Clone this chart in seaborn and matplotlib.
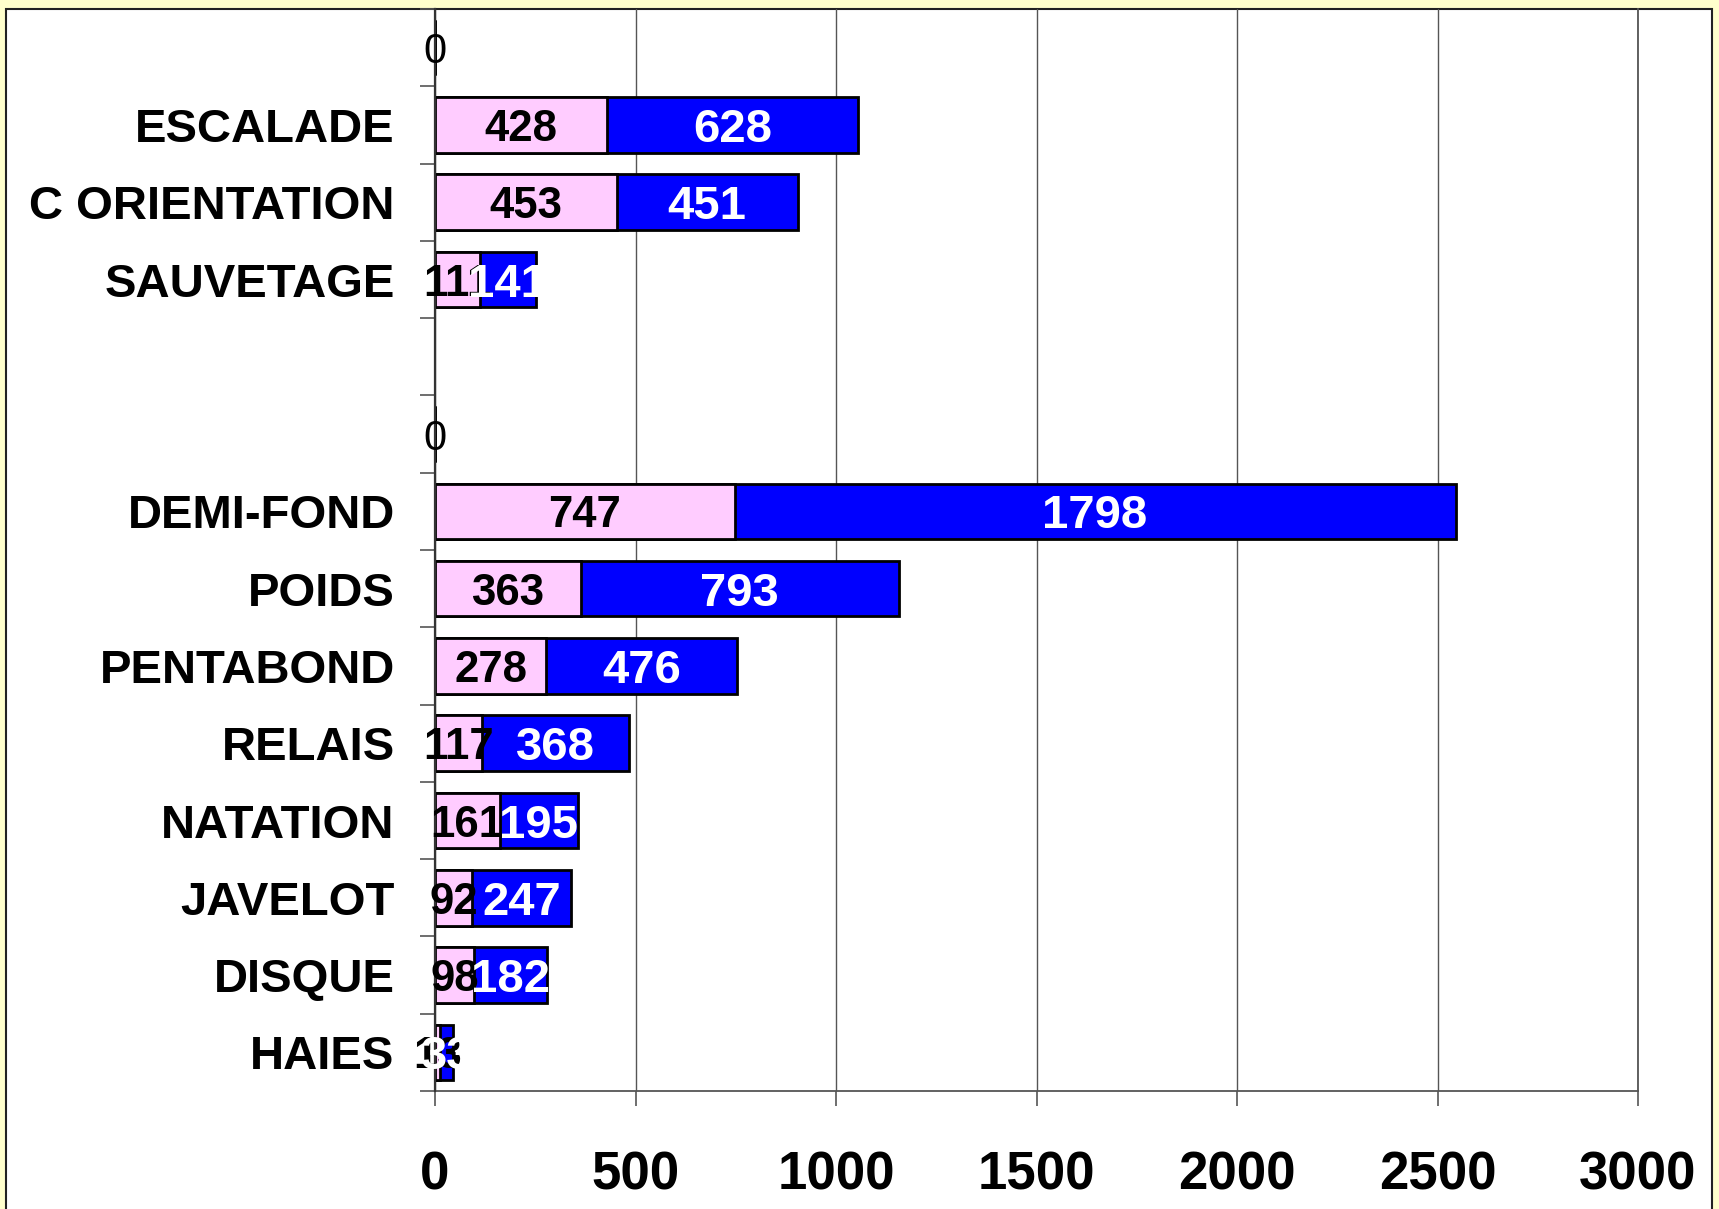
import numpy as np
import pandas as pd
import matplotlib
matplotlib.use("Agg")
import matplotlib.pyplot as plt
from matplotlib.patches import Rectangle
from matplotlib.ticker import FixedLocator
import seaborn as sns

# ---- data ----
categories = [" ", "ESCALADE", "C ORIENTATION", "SAUVETAGE", "  ", "   ",
              "DEMI-FOND", "POIDS", "PENTABOND", "RELAIS", "NATATION",
              "JAVELOT", "DISQUE", "HAIES"]
pink_values = [0, 428, 453, 111, np.nan, 0, 747, 363, 278, 117, 161, 92, 98, 13]
blue_values = [0, 628, 451, 141, np.nan, 0, 1798, 793, 476, 368, 195, 247, 182, 33]
x_ticks = [0, 500, 1000, 1500, 2000, 2500, 3000]

PINK = "#FFCCFF"
BLUE = "#0000FF"

sns.set_style("white")
plt.rcParams["font.family"] = ["Liberation Sans", "DejaVu Sans"]

df = pd.DataFrame({"cat": categories,
                   "pink": pink_values,
                   "blue": blue_values})
df["total"] = df["pink"] + df["blue"]

W, H = 1719, 1209
fig = plt.figure(figsize=(W / 100, H / 100), dpi=100, facecolor="#FFFFCC")
fig.patches.append(Rectangle((6 / W, -0.05), (1712 - 6) / W, (H - 9) / H + 0.05,
                             transform=fig.transFigure, facecolor="white",
                             edgecolor="#222222", lw=1.5, zorder=-10))
ax = fig.add_axes([435 / W, 1 - 1091 / H, (1638 - 435) / W, (1091 - 9) / H])
ax.set_zorder(1)
ax.set_facecolor("none")

# stacked bars: total (blue) then pink on top
sns.barplot(data=df, x="total", y="cat", order=categories, orient="h",
            color=BLUE, saturation=1, edgecolor="black", linewidth=2,
            width=0.72, ax=ax, zorder=3)
sns.barplot(data=df, x="pink", y="cat", order=categories, orient="h",
            color=PINK, saturation=1, edgecolor="black", linewidth=2,
            width=0.72, ax=ax, zorder=4)

# value labels
for i, (p, b) in enumerate(zip(pink_values, blue_values)):
    if np.isnan(p):
        continue
    if p == 0 and b == 0:
        ax.text(0, i, "0", ha="center", va="center_baseline", fontsize=30,
                color="black", zorder=6)
        continue
    ax.text(p / 2, i, f"{p:g}", ha="center", va="center_baseline", fontsize=31.5,
            fontweight="bold", color="black", zorder=6)
    ax.text(p + b / 2, i, f"{b:g}", ha="center", va="center_baseline", fontsize=34,
            fontweight="bold", color="white", zorder=7)

ax.set_xlim(0, 3000)
ax.set_ylim(len(categories) - 0.5, -0.5)
ax.set_xticks(x_ticks)
ax.set_xticklabels([str(t) for t in x_ticks], fontsize=38, fontweight="bold")
ax.set_yticks(range(len(categories)))
ax.set_yticklabels(categories, fontsize=34, fontweight="bold")
ax.yaxis.set_minor_locator(FixedLocator(np.arange(-0.5, len(categories), 1.0)))
ax.tick_params(axis="y", which="major", length=0, pad=29, colors="black")
ax.tick_params(axis="y", which="minor", length=11, width=1.2, color="#555555",
               direction="out", left=True)
ax.tick_params(axis="x", which="major", length=11, width=1.2, color="#555555",
               direction="out", pad=32, bottom=True, labelcolor="black")
ax.set_xlabel("")
ax.set_ylabel("")

ax.grid(axis="x", color="#555555", linewidth=1.0, zorder=1)
ax.grid(axis="y", visible=False)
ax.set_axisbelow(True)
for s in ["left", "bottom", "right"]:
    ax.spines[s].set_visible(True)
    ax.spines[s].set_color("#555555")
    ax.spines[s].set_linewidth(1.3)
ax.spines["left"].set_color("#333333")
ax.spines["left"].set_linewidth(1.6)
ax.spines["left"].set_zorder(5)
ax.spines["top"].set_visible(False)

fig.savefig("out.png", dpi=100, facecolor=fig.get_facecolor())
